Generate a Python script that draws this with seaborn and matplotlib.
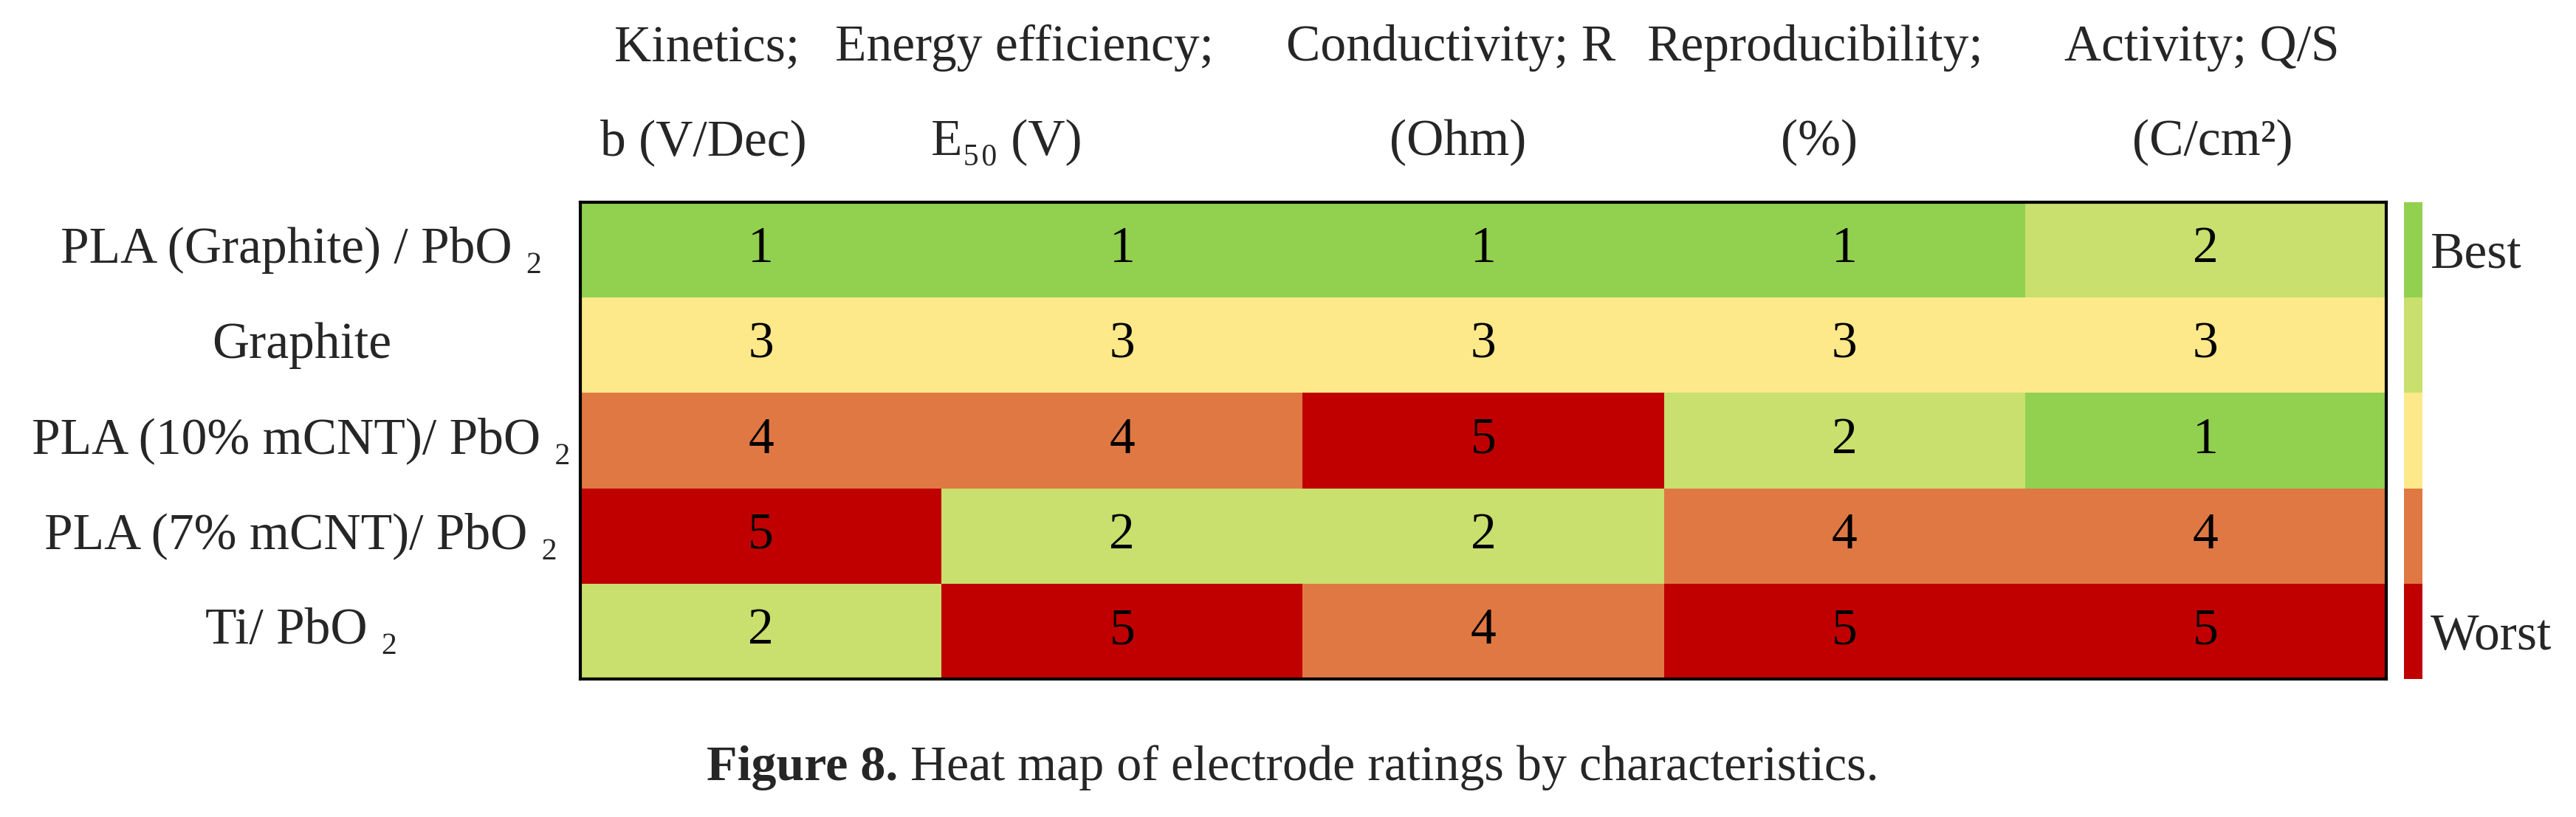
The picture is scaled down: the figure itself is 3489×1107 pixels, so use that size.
import numpy as np
import matplotlib
matplotlib.use("Agg")
import matplotlib.pyplot as plt
import seaborn as sns
from matplotlib.colors import ListedColormap

# electrode ratings, 1 = best, 5 = worst
electrodes = ["PLA (Graphite) / PbO \u2082", "Graphite", "PLA (10% mCNT)/ PbO \u2082",
              "PLA (7% mCNT)/ PbO \u2082", "Ti/ PbO \u2082"]
head_line1 = ["Kinetics;", "Energy efficiency;", "Conductivity; R", "Reproducibility;", "Activity; Q/S"]
head_line2 = ["b (V/Dec)", "E\u2085\u2080 (V)", "(Ohm)", "(%)", "(C/cm\u00b2)"]
kinetics = [1, 3, 4, 5, 2]
energy_eff = [1, 3, 4, 2, 5]
conductivity = [1, 3, 5, 2, 4]
reproducibility = [1, 3, 2, 4, 5]
activity = [2, 3, 1, 4, 5]
scale_labels = ["Best", "Worst"]

ratings = np.array([kinetics, energy_eff, conductivity, reproducibility, activity]).T

colors = ["#92D050", "#C9DF6E", "#FEE98A", "#E07844", "#C00000"]
cmap = ListedColormap(colors)

sns.set_style("white")
plt.rcParams['font.family'] = ['Liberation Serif', 'DejaVu Serif']
FS = 50

fig = plt.figure(figsize=(34.89, 11.07), dpi=100)
ax = fig.add_axes([0.2253, 0.1689, 0.7010, 0.5836])
cax = fig.add_axes([0.9332, 0.1689, 0.0072, 0.5836])

sns.heatmap(ratings, ax=ax, cbar_ax=cax, cmap=cmap, vmin=0.5, vmax=5.5,
            annot=True, fmt="d", annot_kws={"fontsize": FS, "color": "black"},
            cbar_kws={"ticks": [1, 5]}, linewidths=0)

# row labels centred in the left margin
ax.set_yticklabels(electrodes, rotation=0, ha="center", fontsize=FS)
ax.tick_params(axis="y", length=0, pad=272)
ax.set_xticks([])

for sp in ax.spines.values():
    sp.set_visible(True)
    sp.set_linewidth(3)
    sp.set_color("black")

# two-line column headers above the grid
off1 = [-0.15, -0.27, -0.09, -0.08, -0.01]
off2 = [-0.16, -0.32, -0.07, -0.07, 0.02]
tr = ax.get_xaxis_transform()
for i in range(len(head_line1)):
    ax.text(i + 0.5 + off1[i], 1.297, head_line1[i], transform=tr, ha="center",
            va="baseline", fontsize=FS)
    ax.text(i + 0.5 + off2[i], 1.099, head_line2[i], transform=tr, ha="center",
            va="baseline", fontsize=FS)

# colour scale
cbar = ax.collections[0].colorbar
cbar.outline.set_visible(False)
cax.invert_yaxis()
cbar.set_ticklabels(scale_labels)
cax.tick_params(length=0, pad=8, labelsize=FS)

# caption
t1 = fig.text(0.2743, 0.0452, "Figure 8.", fontweight="bold", fontsize=49, va="baseline")
ax.annotate(" Heat map of electrode ratings by characteristics.", xy=(1, 0), xycoords=t1,
            va="bottom", ha="left", fontsize=49, annotation_clip=False)

fig.savefig("out.png", dpi=100)
